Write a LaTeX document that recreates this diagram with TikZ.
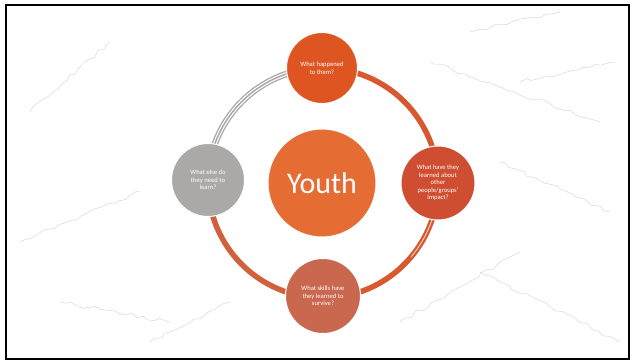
\documentclass[tikz,border=0pt]{standalone}
\usepackage{fontspec}
\setmainfont{Carlito}
\usetikzlibrary{decorations.pathmorphing}

\definecolor{topred}{HTML}{DF5522}
\definecolor{rightred}{HTML}{CF4E32}
\definecolor{bottomsalmon}{HTML}{C9674F}
\definecolor{leftgray}{HTML}{ABA8A8}
\definecolor{youthorange}{HTML}{E56C32}
\definecolor{ringred}{HTML}{D8582F}
\definecolor{ringsalmon}{HTML}{D0603E}
\definecolor{vein}{HTML}{D8D8D8}

\tikzset{
  bubble/.style={circle,draw=white,line width=1pt,text=white,align=center,
    font=\fontsize{6.6}{7.6}\selectfont,inner sep=0pt},
  ringarc/.style={line width=5.5pt,line cap=round},
  veinline/.style={vein,line width=0.5pt,decorate,
    decoration={random steps,segment length=6pt,amplitude=2pt}}
}

\begin{document}
\begin{tikzpicture}[x=1pt,y=1pt]
  % Page and frame
  \useasboundingbox (0,0) rectangle (632,362);
  \fill[white] (0,0) rectangle (632,362);
  \pgfmathsetseed{7}
  \foreach \a/\b/\c/\d in {20/120/140/170, 60/60/170/40, 430/300/600/240,
      470/330/560/350, 480/90/620/20, 500/200/610/150, 30/250/110/320,
      400/40/520/110, 150/20/230/60, 520/280/615/300}
  {
    % Marble veins
    \draw[veinline] (\a,\b) -- (\c,\d);
  }
  \draw[black,line width=1.8pt] (6,3) rectangle (629,357);

  % Ring
  \def\rx{115}
  \draw[ringarc,ringred] (323,179) ++(90:\rx) arc[start angle=90,end angle=0,radius=\rx];
  \draw[ringarc,ringred] (323,179) ++(0:\rx) arc[start angle=0,end angle=-90,radius=\rx];
  \draw[white!80!ringred,line width=0.8pt] (323,179) ++(15:\rx) arc[start angle=15,end angle=-40,radius=\rx];
  \draw[ringarc,ringsalmon] (323,179) ++(-90:\rx) arc[start angle=-90,end angle=-180,radius=\rx];
  \draw[line width=6.5pt,leftgray] (323,179) ++(180:\rx) arc[start angle=180,end angle=90,radius=\rx];
  \draw[line width=1pt,white] (323,179) ++(172:\rx-1.4) arc[start angle=172,end angle=98,radius=\rx-1.4];
  \draw[line width=1pt,white] (323,179) ++(172:\rx+1.4) arc[start angle=172,end angle=98,radius=\rx+1.4];

  % Bubbles
  \node[bubble,fill=youthorange,minimum size=108pt,font=\fontsize{30}{34}\selectfont]
    (youth) at (322,179) {Youth};
  \node[bubble,fill=topred,minimum size=71pt] (happened) at (322,294)
    {What happened\\to them?};
  \node[bubble,fill=rightred,minimum size=74pt] (learned) at (438,179)
    {What have they\\learned about\\other\\people/groups'\\impact?};
  \node[bubble,fill=bottomsalmon,minimum size=75pt] (skills) at (323,66)
    {What skills have\\they learned to\\survive?};
  \node[bubble,fill=leftgray,minimum size=73pt] (needs) at (208,182)
    {What else do\\they need to\\learn?};
\end{tikzpicture}
\end{document}
